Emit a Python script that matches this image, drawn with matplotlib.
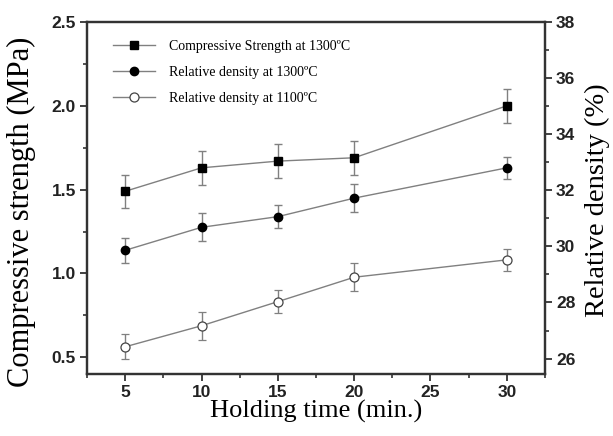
import matplotlib
matplotlib.use("Agg")
import matplotlib.pyplot as plt
from matplotlib.ticker import MultipleLocator
from matplotlib.lines import Line2D

# Data
holding_time = [5, 10, 15, 20, 30]
strength_1300 = [1.49, 1.63, 1.67, 1.69, 2.00]
strength_1300_err = [0.10, 0.10, 0.10, 0.10, 0.10]
density_1300 = [29.86, 30.68, 31.06, 31.72, 32.80]
density_1300_err = [0.45, 0.50, 0.40, 0.50, 0.40]
density_1100 = [26.42, 27.17, 28.03, 28.90, 29.52]
density_1100_err = [0.44, 0.49, 0.40, 0.50, 0.40]

labels = ["Compressive Strength at 1300\u00baC",
          "Relative density at 1300\u00baC",
          "Relative density at 1100\u00baC"]

serif = "Liberation Serif"
sans = "Liberation Sans"
line_c = "#808080"
spine_c = "#333333"

fig = plt.figure(figsize=(6.13, 4.36), dpi=100)
ax = fig.add_axes([87/613, 1-374/436, (545-87)/613, (374-22)/436])
ax2 = ax.twinx()

styles = [
    dict(marker="s", ms=5.5, mfc="black", mec="black"),
    dict(marker="o", ms=6, mfc="black", mec="black"),
    dict(marker="o", ms=6.5, mfc="white", mec="#444444", mew=0.9),
]
common = dict(color=line_c, lw=1.0, elinewidth=1.0, capsize=3, capthick=1.0, zorder=3)

ax.errorbar(holding_time, strength_1300, yerr=strength_1300_err, **common, **styles[0])
ax2.errorbar(holding_time, density_1300, yerr=density_1300_err, **common, **styles[1])
ax2.errorbar(holding_time, density_1100, yerr=density_1100_err, **common, **styles[2])

ax.set_xlim(2.5, 32.5)
ax.set_ylim(0.4, 2.5)
ax2.set_ylim(25.45, 38)

ax.xaxis.set_major_locator(MultipleLocator(5))
ax.xaxis.set_minor_locator(MultipleLocator(2.5))
ax.yaxis.set_major_locator(MultipleLocator(0.5))
ax.yaxis.set_minor_locator(MultipleLocator(0.25))
ax2.yaxis.set_major_locator(MultipleLocator(2))
ax2.yaxis.set_minor_locator(MultipleLocator(1))

for a in (ax, ax2):
    for s in a.spines.values():
        s.set_linewidth(1.6)
        s.set_color(spine_c)
    a.tick_params(which="major", direction="out", length=5, width=1.3, color=spine_c,
                  labelsize=12.5, pad=3)
    a.tick_params(which="minor", direction="out", length=3, width=1.2, color=spine_c)

ax.tick_params(axis="x", which="both", top=False)
ax.tick_params(axis="y", which="both", right=False)
ax.xaxis.set_major_formatter(plt.FuncFormatter(lambda v, p: f"{int(v)}"))
ax.yaxis.set_major_formatter(plt.FuncFormatter(lambda v, p: f"{v:.1f}"))

for lab in ax.get_xticklabels() + ax.get_yticklabels() + ax2.get_yticklabels():
    lab.set_fontfamily(sans)
    lab.set_fontweight("bold")
    lab.set_color("#222222")

ax.set_xlabel("Holding time (min.)", fontfamily=serif, fontsize=19, labelpad=0)
ax.set_ylabel("Compressive strength (MPa)", fontfamily=serif, fontsize=22)
ax2.set_ylabel("Relative density (%)", fontfamily=serif, fontsize=20.5)
ax.yaxis.set_label_coords(-0.112, 0.46)
ax2.yaxis.set_label_coords(1.086, 0.495)

handles = [Line2D([], [], color=line_c, lw=1.0, **st) for st in styles]
leg = ax.legend(handles=handles, labels=labels, loc="upper left",
                bbox_to_anchor=(0.03, 0.985), frameon=False, numpoints=1,
                prop={"family": serif, "size": 10}, handlelength=3.0,
                handletextpad=1.0, labelspacing=0.95)

fig.savefig("out.png", dpi=100)
